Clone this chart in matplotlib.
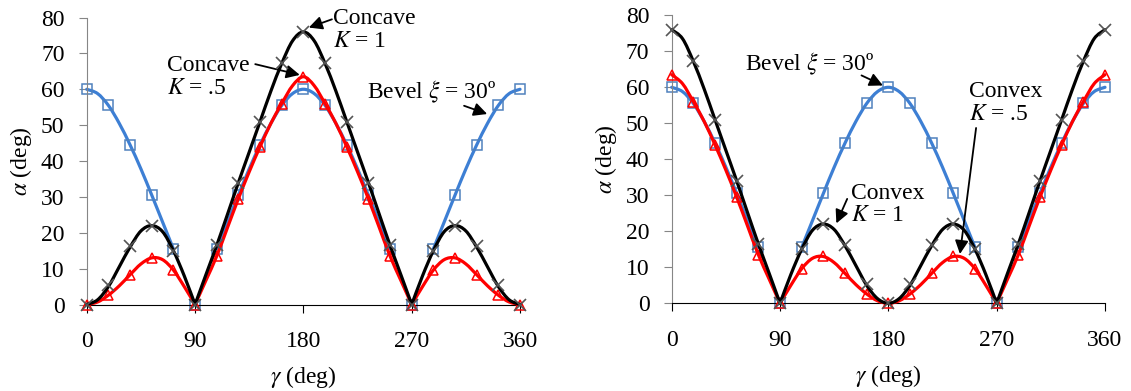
import numpy as np
import matplotlib
matplotlib.use('Agg')
import matplotlib.pyplot as plt
from matplotlib.path import Path
from matplotlib.patches import PathPatch

plt.rcParams['font.family'] = ['Liberation Serif', 'DejaVu Serif']
plt.rcParams['mathtext.fontset'] = 'stix'
plt.rcParams['font.size'] = 17

nan = np.nan

# gamma positions: curves read every 9 deg, markers every 18 deg
gam_line = np.arange(0, 361, 9)
gam_mark = np.arange(0, 361, 18)
cusps = [90, 270]  # the curves have sharp corners here

# left panel (concave)
cc_k1_line = [0, 1.3, 5, 10.5, 16, 20.5, 22, 20.3, 15, 8, 0, 8.3, 16.5, 25.2, 34, 42.5, 51, 59.5, 67.2, 73.5, 76,
              73.5, 67.2, 59.5, 51, 42.5, 34, 25.2, 16.5, 8.3, 0, 8, 15, 20.3, 22, 20.5, 16, 10.5, 5, 1.3, 0]
cc_k5_line = [0, 0.7, 2.6, 5.2, 8.3, 11.3, 13, 12.5, 9.6, 5, 0, 6.7, 13.5, 21.5, 29.5, 37, 44, 50.5, 56, 61, 63.5,
              61, 56, 50.5, 44, 37, 29.5, 21.5, 13.5, 6.7, 0, 5, 9.6, 12.5, 13, 11.3, 8.3, 5.2, 2.6, 0.7, 0]
cc_k1_mark = [0, 5.3, 16.3, 22, 15, 0, 16.5, 34, 51, 67.3, 76, 67.3, 51, 34, 16.5, 0, 15, 22, 16.3, 5.3, 0]
cc_k5_mark = [0, 2.6, 8.3, 13, 9.6, 0, 13.5, 29.5, 44, 56, 63.5, 56, 44, 29.5, 13.5, 0, 9.6, 13, 8.3, 2.6, 0]

# right panel (convex)
cv_k1_line = [76, 73.5, 67.2, 59.5, 51, 42.5, 34, 25.2, 16.5, 8.3, 0, 8, 15, 20.3, 22, 20.5, 16, 10.5, 5, 1.3, 0,
              1.3, 5, 10.5, 16, 20.5, 22, 20.3, 15, 8, 0, 8.3, 16.5, 25.2, 34, 42.5, 51, 59.5, 67.2, 73.5, 76]
cv_k5_line = [63.5, 61, 56, 50.5, 44, 37, 29.5, 21.5, 13.5, 6.7, 0, 5, 9.6, 12.5, 13, 11.3, 8.3, 5.2, 2.6, 0.7, 0,
              0.7, 2.6, 5.2, 8.3, 11.3, 13, 12.5, 9.6, 5, 0, 6.7, 13.5, 21.5, 29.5, 37, 44, 50.5, 56, 61, 63.5]
cv_k1_mark = [76, 67.3, 51, 34, 16.5, 0, 15, 22, 16.3, 5.3, 0, 5.3, 16.3, 22, 15, 0, 16.5, 34, 51, 67.3, 76]
cv_k5_mark = [63.5, 56, 44, 29.5, 13.5, 0, 9.6, 13, 8.3, 2.6, 0, 2.6, 8.3, 13, 9.6, 0, 13.5, 29.5, 44, 56, 63.5]

# bevel xi = 30 deg (same in both panels, curve undefined near 90 and 270)
bev_line = [60, 58.8, 55.5, 50.5, 44.5, 37.8, 30.5, 23, 15.5, nan, nan, nan, 15.5, 23, 30.5, 37.8, 44.5, 50.5, 55.5, 58.8, 60,
            58.8, 55.5, 50.5, 44.5, 37.8, 30.5, 23, 15.5, nan, nan, nan, 15.5, 23, 30.5, 37.8, 44.5, 50.5, 55.5, 58.8, 60]
bev_mark = [60, 55.5, 44.5, 30.5, 15.5, 0, 15.5, 30.5, 44.5, 55.5, 60, 55.5, 44.5, 30.5, 15.5, 0, 15.5, 30.5, 44.5, 55.5, 60]

BLUE = '#3d7fd4'
RED = '#ff0000'


def smooth_line(ax, x, y, color, z):
    # Excel-style smoothed line: cubic Bezier pieces through the read points,
    # broken at gaps (nan) and at the cusps
    x = np.asarray(x, float)
    y = np.asarray(y, float)
    runs, cur = [], []
    for i in range(len(x)):
        if np.isnan(y[i]):
            if cur:
                runs.append(cur)
            cur = []
            continue
        cur.append(i)
        if x[i] in cusps and len(cur) > 1:
            runs.append(cur)
            cur = [i]
    if cur:
        runs.append(cur)
    verts, codes = [], []
    for r in runs:
        p = np.column_stack([x[r], y[r]])
        if len(p) < 2:
            continue
        pe = np.vstack([p[0], p, p[-1]])
        verts.append(p[0])
        codes.append(Path.MOVETO)
        for i in range(len(p) - 1):
            c1 = pe[i + 1] + (pe[i + 2] - pe[i]) / 6
            c2 = pe[i + 2] - (pe[i + 3] - pe[i + 1]) / 6
            verts += [c1, c2, p[i + 1]]
            codes += [Path.CURVE4] * 3
    ax.add_patch(PathPatch(Path(verts, codes), fill=False, edgecolor=color, lw=2.3,
                           zorder=z, clip_on=False, capstyle='round', joinstyle='round'))


def draw_panel(ax, k1_line, k5_line, k1_mark, k5_mark):
    smooth_line(ax, gam_line, bev_line, BLUE, 2)
    ax.plot(gam_mark, bev_mark, ls='none', marker='s', ms=7, mfc='none', mec='#4f81bd', mew=1.1, zorder=2.5, clip_on=False)
    smooth_line(ax, gam_line, k5_line, RED, 3)
    ax.plot(gam_mark, k5_mark, ls='none', marker='^', ms=7.5, mfc='none', mec=RED, mew=1.1, zorder=3.5, clip_on=False)
    smooth_line(ax, gam_line, k1_line, 'k', 4)
    ax.plot(gam_mark, k1_mark, ls='none', marker='x', ms=8, mec='#555555', mew=1.2, zorder=4.5, clip_on=False)

    ax.set_xlim(0, 360)
    ax.set_ylim(0, 80)
    ax.set_xticks([0, 90, 180, 270, 360])
    ax.set_yticks(range(0, 81, 10))
    for s in ['top', 'right']:
        ax.spines[s].set_visible(False)
    ax.spines['left'].set_color('#868686')
    ax.spines['bottom'].set_color('k')
    ax.tick_params(axis='x', direction='out', length=6, pad=13)
    ax.tick_params(axis='y', direction='out', length=6, pad=10, color='#868686')
    ax.set_xlabel(r'$\gamma$ (deg)', labelpad=9)
    ax.set_ylabel(r'$\alpha$ (deg)', labelpad=5)


def note(ax, text, xy_text, xy_tip, tail):
    ax.text(xy_text[0], xy_text[1], text, ha='left', va='center', linespacing=1.1)
    ax.annotate('', xy=xy_tip, xytext=tail,
                arrowprops=dict(arrowstyle='-|>', color='k', lw=1.3, mutation_scale=20, shrinkA=0, shrinkB=0))


fig = plt.figure(figsize=(11.31, 3.91), dpi=100)
ax1 = fig.add_axes([0.0767, 0.2212, 0.3831, 0.734])
ax2 = fig.add_axes([0.5939, 0.2243, 0.3831, 0.7366])

draw_panel(ax1, cc_k1_line, cc_k5_line, cc_k1_mark, cc_k5_mark)
draw_panel(ax2, cv_k1_line, cv_k5_line, cv_k1_mark, cv_k5_mark)

note(ax1, 'Concave\n$K$ = 1', (205, 76.6), (184.5, 77.2), (203.7, 79.5))
note(ax1, 'Concave\n$K$ = .5', (67, 63.5), (177, 64), (140, 67))
note(ax1, r'Bevel $\xi$ = 30º', (233, 59.4), (332.7, 53.1), (313.5, 55.4))

note(ax2, r'Bevel $\xi$ = 30º', (61, 66.4), (175.5, 60.5), (157.7, 63.3))
note(ax2, 'Convex\n$K$ = .5', (247, 55.7), (239.5, 13.7), (252.9, 48.7))
note(ax2, 'Convex\n$K$ = 1', (148.8, 27.4), (136.8, 22.2), (145.8, 29))

fig.savefig('out.png', dpi=100)
